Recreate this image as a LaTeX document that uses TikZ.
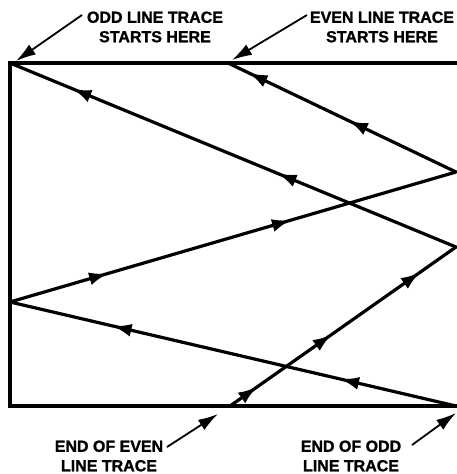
\documentclass[tikz,border=0pt]{standalone}
\usepackage{fontspec}
\setmainfont{Liberation Sans}[BoldFeatures={FakeBold=1.2}]
\usetikzlibrary{arrows.meta,decorations.markings}
\tikzset{
  trace/.style={line width=3.2pt,line cap=round,line join=miter},
  frameline/.style={line width=3.4pt,line join=miter},
  pointer/.style={line width=1.8pt,-{Latex[length=20pt,width=12pt]}},
  lbl/.style={font=\fontsize{16}{19.5}\selectfont\bfseries,align=center,inner sep=0pt},
  marks/.style 2 args={postaction={decorate,decoration={markings,
     mark=at position #1 with {\arrow{Latex[length=19pt,width=13pt]}},
     mark=at position #2 with {\arrow{Latex[length=19pt,width=13pt]}}}}},
  marksthree/.style n args={3}{postaction={decorate,decoration={markings,
     mark=at position #1 with {\arrow{Latex[length=19pt,width=13pt]}},
     mark=at position #2 with {\arrow{Latex[length=19pt,width=13pt]}},
     mark=at position #3 with {\arrow{Latex[length=19pt,width=13pt]}}}}}
}
\begin{document}
\begin{tikzpicture}[x=1pt,y=-1pt]
\useasboundingbox (0,0) rectangle (457,474);
% corners and vertices
\coordinate (TL) at (10,63);
\coordinate (TR) at (457,63);
\coordinate (BL) at (10,406);
\coordinate (BR) at (457,406);
\coordinate (R1) at (456,172);
\coordinate (R2) at (456,247);
\coordinate (R3) at (456,406);
\coordinate (L1) at (10,302);
\coordinate (ES) at (228,63);
\coordinate (EE) at (230,406);
% frame
\draw[frameline] (TR) -- (TL) -- (BL) -- (BR);
% traces
\draw[trace,marks={0.40}{0.86}] (R2) -- (TL);
\draw[trace,marks={0.47}{0.91}] (R1) -- (ES);
\draw[trace,marks={0.22}{0.63}] (L1) -- (R1);
\draw[trace,marks={0.26}{0.77}] (R3) -- (L1);
\draw[trace,marksthree={0.12}{0.45}{0.84}] (EE) -- (R2);
% labels
\node[lbl] (odd) at (155,27) {ODD LINE TRACE\\STARTS HERE};
\node[lbl] (even) at (382,27) {EVEN LINE TRACE\\STARTS HERE};
\node[lbl] (endeven) at (109,456) {END OF EVEN\\LINE TRACE};
\node[lbl] (endodd) at (351,456) {END OF ODD\\LINE TRACE};
\coordinate (p1) at (82,15);
\coordinate (p2) at (307,15);
\coordinate (p3) at (167,447);
\coordinate (p4) at (412,445);
\coordinate (t1) at (16,61);
\coordinate (t2) at (232,60);
\coordinate (t3) at (218,414);
\coordinate (t4) at (456,413);
\draw[pointer] (p1) -- (t1);
\draw[pointer] (p2) -- (t2);
\draw[pointer] (p3) -- (t3);
\draw[pointer] (p4) -- (t4);
\end{tikzpicture}
\end{document}
